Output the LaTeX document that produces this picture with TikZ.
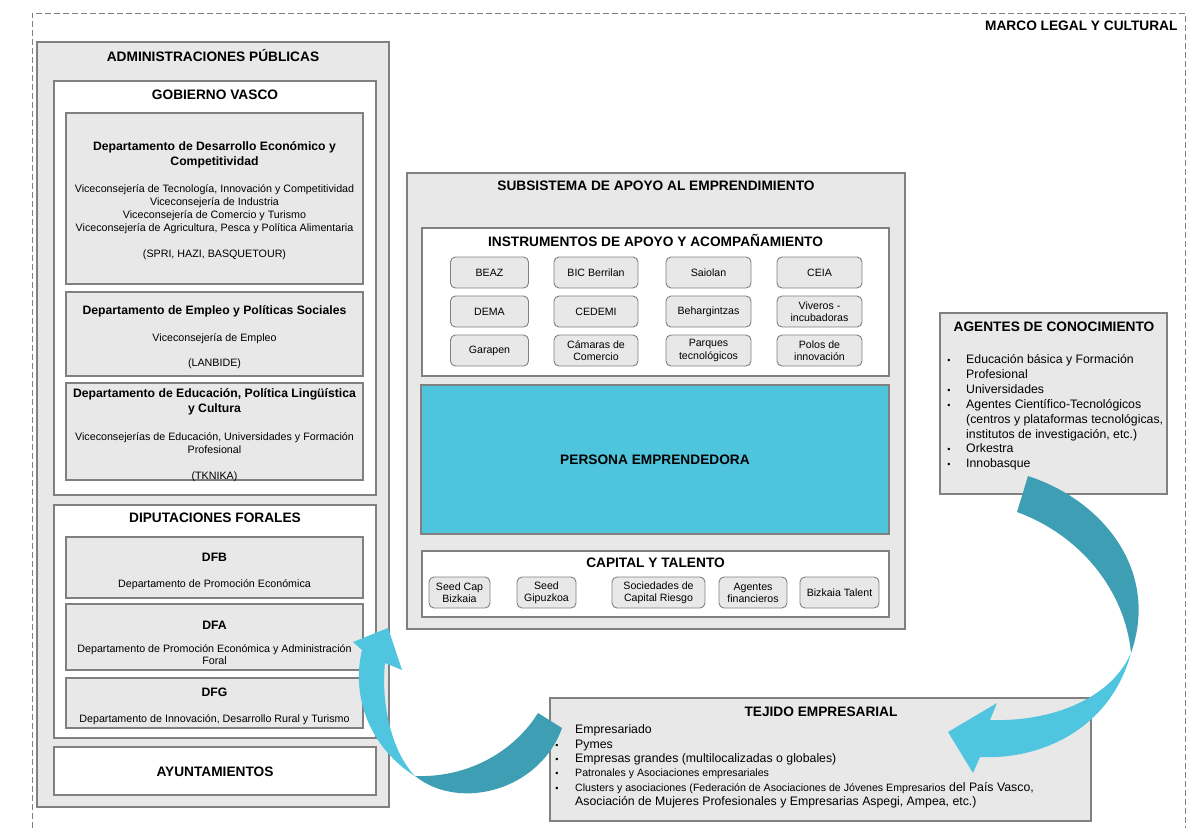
\documentclass[tikz,border=0pt]{standalone}
\usepackage{fontspec}
\setmainfont{Liberation Sans}
\usepackage{xcolor,tikz}

\definecolor{boxgray}{HTML}{E8E8E8}
\definecolor{edgegray}{HTML}{808080}
\definecolor{personacyan}{HTML}{4EC4DD}
\definecolor{arrowlight}{HTML}{4FC5DF}
\definecolor{arrowdark}{HTML}{3E9FB4}

\begin{document}
\begin{tikzpicture}[x=1pt,y=-1pt,
	graybox/.style={draw=edgegray,fill=boxgray,line width=1.2pt,inner sep=0pt},
	whitebox/.style={draw=edgegray,fill=white,line width=1.2pt,inner sep=0pt},
	instbox/.style={draw=edgegray,fill=boxgray,line width=0.9pt,rounded corners=5pt,inner sep=0pt,minimum height=31pt,align=center,font=\fontsize{10.6}{12.2}\selectfont},
	ttl/.style={font=\fontsize{13.7}{16}\selectfont\bfseries},
	dept/.style={font=\fontsize{12.2}{14.6}\selectfont\bfseries,align=center,yshift=-2pt},
	body/.style={font=\fontsize{10.7}{12.8}\selectfont,align=center,yshift=-2pt},
	ln/.style={anchor=west,inner sep=0pt,text height=0.75em,text depth=0.25em,font=\fontsize{12.3}{14}\selectfont,yshift=-3pt},
	lnsmall/.style={ln,font=\fontsize{10.6}{12}\selectfont},
	bul/.style={inner sep=0pt,font=\fontsize{9}{10}\selectfont,yshift=-3pt}]

\useasboundingbox (0,0) rectangle (1198,828);

% marco legal
\draw[edgegray,line width=0.8pt,dash pattern=on 6pt off 3pt] (32,828) -- (32,13) -- (1185,13) -- (1185,828);
\node[ttl,anchor=east] (marco) at (1181,26) {MARCO LEGAL Y CULTURAL};

% administraciones
\node[graybox,minimum width=352pt,minimum height=765pt] (admin) at (213,424.5) {};
\node[ttl] (admintit) at (213,55) {ADMINISTRACIONES PÚBLICAS};

\node[whitebox,minimum width=322pt,minimum height=414pt] (gv) at (215,288) {};
\node[ttl] (gvtit) at (215,95) {GOBIERNO VASCO};

\node[graybox,minimum width=297pt,minimum height=171pt] (dep1) at (214.5,198.5) {};
\node[dept] (dep1tit) at (214.5,152.5) {Departamento de Desarrollo Económico y\\Competitividad};
\node[body] (dep1txt) at (214.5,207) {Viceconsejería de Tecnología, Innovación y Competitividad\\Viceconsejería de Industria\\Viceconsejería de Comercio y Turismo\\Viceconsejería de Agricultura, Pesca y Política Alimentaria};
\node[body] (dep1org) at (214.5,253) {(SPRI, HAZI, BASQUETOUR)};

\node[graybox,minimum width=297pt,minimum height=84pt] (dep2) at (214.5,334) {};
\node[dept] (dep2tit) at (214.5,309) {Departamento de Empleo y Políticas Sociales};
\node[body] (dep2txt) at (214.5,337) {Viceconsejería de Empleo};
\node[body] (dep2org) at (214.5,362) {(LANBIDE)};

\node[graybox,minimum width=297pt,minimum height=97pt] (dep3) at (214.5,431.5) {};
\node[dept] (dep3tit) at (214.5,399.5) {Departamento de Educación, Política Lingüística\\y Cultura};
\node[body] (dep3txt) at (214.5,441.5) {Viceconsejerías de Educación, Universidades y Formación\\Profesional};
\node[body] (dep3org) at (214.5,475) {(TKNIKA)};

\node[whitebox,minimum width=322pt,minimum height=233pt] (dip) at (215,621.5) {};
\node[ttl] (diptit) at (215,518) {DIPUTACIONES FORALES};

\node[graybox,minimum width=297pt,minimum height=61pt] (dfb) at (214.5,567.5) {};
\node[dept] (dfbtit) at (214.5,555) {DFB};
\node[body] (dfbtxt) at (214.5,583) {Departamento de Promoción Económica};

\node[graybox,minimum width=297pt,minimum height=66pt] (dfa) at (214.5,637) {};
\node[dept] (dfatit) at (214.5,623) {DFA};
\node[body] (dfatxt) at (214.5,652.5) {Departamento de Promoción Económica y Administración\\Foral};

\node[graybox,minimum width=297pt,minimum height=50pt] (dfg) at (214.5,703) {};
\node[dept] (dfgtit) at (214.5,690) {DFG};
\node[body] (dfgtxt) at (214.5,718) {Departamento de Innovación, Desarrollo Rural y Turismo};

\node[whitebox,minimum width=322pt,minimum height=48pt] (ayto) at (215,771) {};
\node[ttl] (aytotit) at (215,772) {AYUNTAMIENTOS};

% subsistema
\node[graybox,minimum width=498pt,minimum height=456pt] (sub) at (656,401) {};
\node[ttl] (subtit) at (656,186) {SUBSISTEMA DE APOYO AL EMPRENDIMIENTO};

\node[whitebox,minimum width=467pt,minimum height=148pt] (inst) at (655.5,302) {};
\node[ttl] (insttit) at (655.5,240) {INSTRUMENTOS DE APOYO Y ACOMPAÑAMIENTO};

\node[instbox,minimum width=78pt] (beaz) at (489.5,272.5) {BEAZ};
\node[instbox,minimum width=84pt] (bic) at (596,272.5) {BIC Berrilan};
\node[instbox,minimum width=85pt] (saiolan) at (708.5,272.5) {Saiolan};
\node[instbox,minimum width=85pt] (ceia) at (819.5,272.5) {CEIA};
\node[instbox,minimum width=78pt] (dema) at (489.5,311.5) {DEMA};
\node[instbox,minimum width=84pt] (cedemi) at (596,311.5) {CEDEMI};
\node[instbox,minimum width=85pt] (behar) at (708.5,311.5) {Behargintzas};
\node[instbox,minimum width=85pt] (viveros) at (819.5,311.5) {Viveros -\\incubadoras};
\node[instbox,minimum width=78pt] (garapen) at (489.5,350.5) {Garapen};
\node[instbox,minimum width=84pt] (camaras) at (596,350.5) {Cámaras de\\Comercio};
\node[instbox,minimum width=85pt] (parques) at (708.5,350.5) {Parques\\tecnológicos};
\node[instbox,minimum width=85pt] (polos) at (819.5,350.5) {Polos de\\innovación};

\node[draw=edgegray,fill=personacyan,line width=1.2pt,inner sep=0pt,minimum width=468pt,minimum height=149pt,font=\fontsize{13.7}{16}\selectfont\bfseries] (persona) at (655,459.5) {PERSONA EMPRENDEDORA};

\node[whitebox,minimum width=467pt,minimum height=66pt] (cap) at (655.5,584) {};
\node[ttl] (captit) at (655.5,563) {CAPITAL Y TALENTO};
\node[instbox,minimum width=61pt] (seedbiz) at (459.5,592.5) {Seed Cap\\Bizkaia};
\node[instbox,minimum width=59pt] (seedgip) at (546.5,592.5) {Seed\\Gipuzkoa};
\node[instbox,minimum width=93pt] (scr) at (658.5,592.5) {Sociedades de\\Capital Riesgo};
\node[instbox,minimum width=68pt] (agfin) at (753,592.5) {Agentes\\financieros};
\node[instbox,minimum width=79pt] (talent) at (839.5,592.5) {Bizkaia Talent};

% agentes de conocimiento
\node[graybox,minimum width=227pt,minimum height=181pt] (agentes) at (1053.5,403.5) {};
\node[ttl] (agtit) at (1054,327) {AGENTES DE CONOCIMIENTO};
\node[bul] (ag1) at (949,358) {•};
\node[bul] (ag2) at (949,388) {•};
\node[bul] (ag3) at (949,403) {•};
\node[bul] (ag4) at (949,447) {•};
\node[bul] (ag5) at (949,462) {•};
\node[ln] (agl1) at (966,358) {Educación básica y Formación};
\node[ln] (agl2) at (966,373) {Profesional};
\node[ln] (agl3) at (966,388) {Universidades};
\node[ln] (agl4) at (966,403) {Agentes Científico-Tecnológicos};
\node[ln] (agl5) at (966,418) {(centros y plataformas tecnológicas,};
\node[ln] (agl6) at (966,433) {institutos de investigación, etc.)};
\node[ln] (agl7) at (966,447) {Orkestra};
\node[ln] (agl8) at (966,462) {Innobasque};

% tejido empresarial
\node[graybox,minimum width=541pt,minimum height=123pt] (tejido) at (820.5,759.5) {};
\node[ttl] (tejtit) at (821,712) {TEJIDO EMPRESARIAL};
\node[bul] (te2) at (557,743) {•};
\node[bul] (te3) at (557,757) {•};
\node[bul] (te4) at (557,771) {•};
\node[bul] (te5) at (557,786) {•};
\node[ln] (tel1) at (575,728) {Empresariado};
\node[ln] (tel2) at (575,743) {Pymes};
\node[ln] (tel3) at (575,757) {Empresas grandes (multilocalizadas o globales)};
\node[lnsmall] (tel4) at (575,771) {Patronales y Asociaciones empresariales};
\node[ln] (tel5) at (575,786) {{\fontsize{10.6}{12}\selectfont Clusters y asociaciones (Federación de Asociaciones de Jóvenes Empresarios} del País Vasco,};
\node[ln] (tel6) at (575,800) {Asociación de Mujeres Profesionales y Empresarias Aspegi, Ampea, etc.)};

% flechas curvas
\fill[arrowdark] (415,776) .. controls (470,778) and (515,750) .. (538,713) -- (562,728) .. controls (540,790) and (460,812) .. (415,776) -- cycle;
\fill[arrowlight] (415,776) .. controls (373,750) and (350,700) .. (362,650) -- (353,642) -- (388,628) -- (402,670) -- (385,663) .. controls (381,700) and (390,750) .. (415,776) -- cycle;

\fill[arrowdark] (1028,476) .. controls (1102,500) and (1160,570) .. (1131,653) .. controls (1125,590) and (1080,535) .. (1017,512) -- cycle;
\fill[arrowlight] (1131,653) .. controls (1110,730) and (1040,760) .. (980,757) -- (973,773) -- (948,732) -- (997,703) -- (990,720) .. controls (1050,722) and (1110,700) .. (1131,653) -- cycle;

%\node at (656,640) {};
\end{tikzpicture}
\end{document}
